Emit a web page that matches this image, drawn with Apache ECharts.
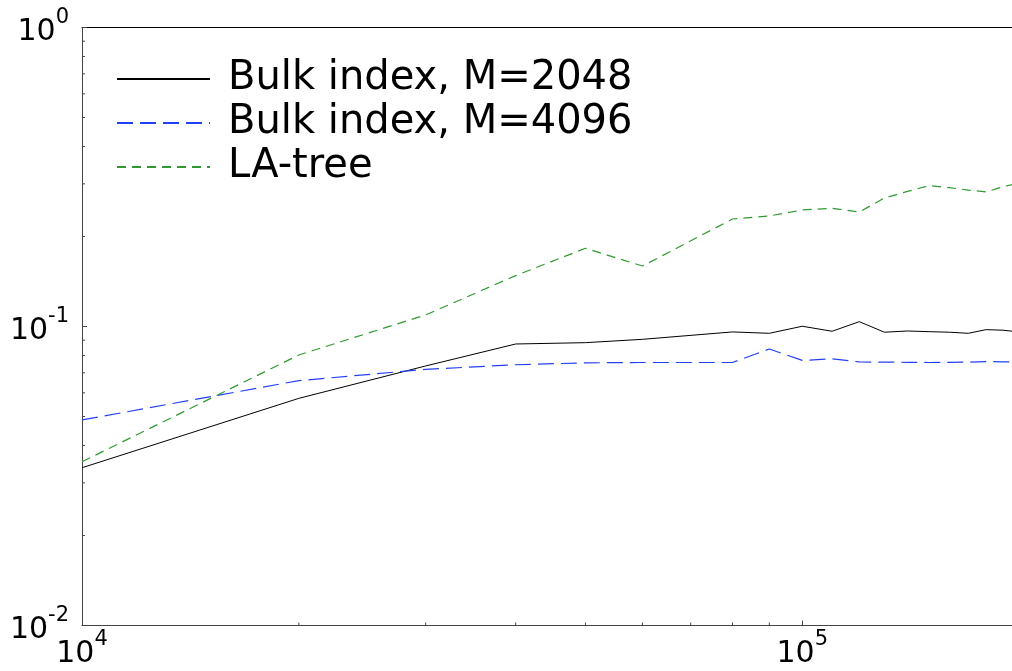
<!DOCTYPE html>
<html>
<head>
<meta charset="utf-8">
<script src="https://cdn.jsdelivr.net/npm/echarts@6/dist/echarts.min.js"></script>
<style>html,body{margin:0;padding:0;background:#fff;}#c{width:1012px;height:671px;}</style>
</head>
<body>
<div id="c"></div>
<script>
const sizes = [10000,20000,30000,40000,50000,60000,80000,90000,100000,110000,120000,130000,140000,150000,160000,170000,180000,190000,200000];
const bulk2048 = [0.0337,0.0575,0.0738,0.0874,0.0883,0.0906,0.0959,0.0949,0.1002,0.0964,0.1038,0.0957,0.0966,0.0961,0.0957,0.0949,0.0976,0.0972,0.0958];
const bulk4096 = [0.0487,0.0659,0.0719,0.0745,0.0756,0.0758,0.0758,0.0841,0.0770,0.0780,0.0761,0.0760,0.0759,0.0758,0.0759,0.0760,0.0763,0.0762,0.0760];
const laTree = [0.0353,0.0803,0.1093,0.148,0.1826,0.1593,0.2288,0.2343,0.2453,0.2485,0.2415,0.269,0.283,0.2958,0.2912,0.286,0.2818,0.2935,0.302];
const seriesNames = ['Bulk index, M=2048','Bulk index, M=4096','LA-tree'];
const xMinorTicks = [20000,30000,40000,50000,60000,70000,80000,90000];
const yMinorTicks = [0.02,0.03,0.04,0.05,0.06,0.07,0.08,0.09,0.2,0.3,0.4,0.5,0.6,0.7,0.8,0.9];
const xMin = 10000, xMax = 195500, yMin = 0.01, yMax = 1;

const FONT = 'DejaVu Sans';
function powLabel(v){
  const l = Math.log10(v); const e = Math.round(l);
  if (Math.abs(l - e) > 1e-6) return '';
  return '{b|10}{s|' + e + '}';
}
const rich = {
  b:{fontSize:30,lineHeight:40,fontFamily:FONT,color:'#000',verticalAlign:'bottom'},
  s:{fontSize:21,lineHeight:21,fontFamily:FONT,color:'#000',verticalAlign:'top'}
};
const pair = arr => sizes.map((x,i)=>[x,arr[i]]);

const chart = echarts.init(document.getElementById('c'));
chart.setOption({
  animation:false,
  backgroundColor:'#fff',
  grid:{left:82,top:27.5,right:0,bottom:45.5,outerBoundsMode:'none',containLabel:false},
  legend:{
    orient:'vertical', left:116, top:57, itemGap:0, padding:0,
    itemWidth:93, itemHeight:14,
    data:seriesNames,
    itemStyle:{opacity:0},
    textStyle:{fontFamily:FONT,fontSize:40,color:'#000',lineHeight:44,padding:[0,0,0,13]}
  },
  xAxis:[{
    type:'log', logBase:10, min:xMin, max:xMax,
    axisLine:{show:true,lineStyle:{color:'#444',width:1}},
    axisTick:{show:true,inside:true,length:5,lineStyle:{color:'#444'}},
    splitLine:{show:false}, minorTick:{show:false},
    axisLabel:{formatter:powLabel,rich:rich,margin:4,showMaxLabel:false}
  },{
    type:'log', logBase:10, min:xMin, max:xMax, position:'top',
    axisLine:{show:true,lineStyle:{color:'#000',width:1}},
    axisTick:{show:false}, axisLabel:{show:false}, splitLine:{show:false}
  }],
  yAxis:{
    type:'log', logBase:10, min:yMin, max:yMax,
    axisLine:{show:true,lineStyle:{color:'#444',width:1}},
    axisTick:{show:true,inside:true,length:5,lineStyle:{color:'#444'}},
    splitLine:{show:false},
    axisLabel:{formatter:powLabel,rich:rich,margin:13}
  },
  series:[
    {name:seriesNames[0],type:'line',data:pair(bulk2048),symbol:'none',
     lineStyle:{color:'#000',width:1,type:'solid'},itemStyle:{color:'#000'}},
    {name:seriesNames[1],type:'line',data:pair(bulk4096),symbol:'none',
     lineStyle:{color:'#2440f5',width:1.2,type:[16,7]},itemStyle:{color:'#2440f5'}},
    {name:seriesNames[2],type:'line',data:pair(laTree),symbol:'none',
     lineStyle:{color:'#2f9a2f',width:1.2,type:[9,6]},itemStyle:{color:'#2f9a2f'}},
    {type:'custom',silent:true,clip:false,data:xMinorTicks.map(v=>[v,yMin]),
     renderItem:(p,api)=>{const pt=api.coord([api.value(0),api.value(1)]);
       return {type:'line',shape:{x1:pt[0],y1:pt[1],x2:pt[0],y2:pt[1]-3},style:{stroke:'#444',lineWidth:1}};}},
    {type:'custom',silent:true,clip:false,data:yMinorTicks.map(v=>[xMin,v]),
     renderItem:(p,api)=>{const pt=api.coord([api.value(0),api.value(1)]);
       return {type:'line',shape:{x1:pt[0],y1:pt[1],x2:pt[0]+3,y2:pt[1]},style:{stroke:'#444',lineWidth:1}};}}
  ]
});
</script>
</body>
</html>
